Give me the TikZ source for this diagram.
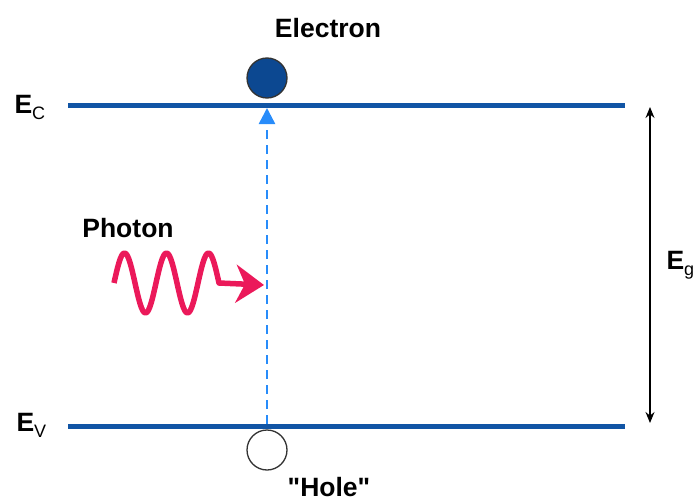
\documentclass[tikz,border=0pt]{standalone}
\usepackage{fontspec}
\setmainfont{Liberation Sans}[Ligatures=TeXOff]
\usetikzlibrary{arrows.meta}
\definecolor{bandblue}{RGB}{17, 85, 165}
\definecolor{elecblue}{RGB}{12, 72, 145}
\definecolor{jumpblue}{RGB}{40, 140, 250}
\definecolor{photonred}{RGB}{235, 25, 90}
\newcommand{\lvl}[2]{#1\raisebox{-6pt}{\fontsize{18}{18}\selectfont\mdseries #2}}

\begin{document}
\begin{tikzpicture}[x=1pt, y=-1pt,
    band/.style={line width=5pt, bandblue},
    lbl/.style={font=\fontsize{26.5}{30}\selectfont\bfseries},
    carrier/.style={circle, draw=black!80, line width=1.3pt, minimum size=40pt, inner sep=0pt}]
    \useasboundingbox (0,0) rectangle (699,503);
    % energy levels
    \draw[band] (68,105) coordinate (cl) -- (625,105) coordinate (cr);
    \draw[band] (68,426) coordinate (vl) -- (625,426) coordinate (vr);
    \node[lbl, anchor=west] (ec) at (11,107) {\lvl{E}{C}};
    \node[lbl, anchor=west] (ev) at (13,425) {\lvl{E}{V}};
    % carriers
    \node[carrier, fill=elecblue] (el) at (267,78) {};
    \node[carrier, fill=white] (ho) at (267,450) {};
    \node[lbl] (eltext) at (328,28) {Electron};
    \node[lbl] (hotext) at (329,487) {"Hole"};
    % excitation
    \coordinate (vb) at (267,424);
    \coordinate (cb) at (267,108);
    \draw[jumpblue, line width=2.5pt, dash pattern=on 9pt off 6pt,
          -{Triangle[length=16pt, width=16pt]}] (vb) -- (cb);
    % photon
    \node[lbl] (phtext) at (128,228) {Photon};
    \coordinate (pstart) at (114,283);
    \coordinate (pend) at (264,285);
    \draw[photonred, line width=5.5pt, line join=round,
          -{Stealth[length=28pt, width=38pt, inset=9pt]}]
        (pstart) sin ++(10.5,-30) cos ++(10.5,30) sin ++(10.5,30) cos ++(10.5,-30)
        sin ++(10.5,-30) cos ++(10.5,30) sin ++(10.5,30) cos ++(10.5,-30)
        sin ++(10.5,-30) cos ++(10.5,30) -- (pend);
    % band gap
    \coordinate (gtop) at (650,107);
    \coordinate (gbot) at (650,423);
    \draw[line width=1.5pt, {Stealth[length=11pt, width=9pt]}-{Stealth[length=11pt, width=9pt]}] (gtop) -- (gbot);
    \node[lbl, anchor=west] (eg) at (663,265) {\lvl{E}{g}};
\end{tikzpicture}
\end{document}
